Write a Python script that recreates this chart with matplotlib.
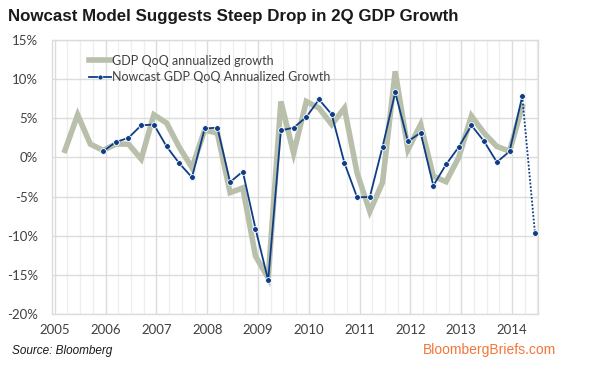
"""Nowcast model vs. reported GDP QoQ annualized growth, 2005-2014."""
import matplotlib

matplotlib.use("Agg")
import matplotlib.pyplot as plt
from matplotlib.lines import Line2D
from matplotlib.ticker import FixedLocator, FuncFormatter

# reported GDP, quarterly from 2005Q1 to 2014Q1 (percent)
gdp_start = (2005, 1)
gdp_growth = [
    0.9, 5.45, 1.7, 0.9, 1.7, 1.7, -0.2, 5.45, 4.4, 1.3,
    -1.3, 3.5, 3.1, -4.5, -3.9, -12.6, -15.4, 7.15, 0.55, 7.15,
    6.3, 4.2, 6.3, -2.0, -6.9, -3.2, 11.0, 1.0, 4.2, -2.4,
    -3.1, 0.0, 5.3, 3.1, 1.4, 0.8, 6.5,
]

# nowcast, quarterly from 2005Q4 to 2014Q1 (percent)
nowcast_start = (2005, 4)
nowcast_growth = [
    0.77, 1.97, 2.5, 4.1, 4.2, 1.4, -0.75, -2.55, 3.7, 3.8,
    -3.15, -1.8, -9.1, -15.7, 3.45, 3.8, 5.15, 7.4, 5.5, -0.7,
    -5.1, -5.05, 1.35, 8.3, 2.05, 3.15, -3.6, -0.9, 1.33, 4.1,
    2.05, -0.6, 0.77, 7.8,
]

# the 2Q 2014 nowcast, drawn dotted
forecast_quarter = (2014, 2)
forecast_growth = -9.65

year_ticks = list(range(2005, 2015))
pct_ticks = [-20, -15, -10, -5, 0, 5, 10, 15]

GREY = "#b8c0ab"
BLUE = "#0e3d88"
TEXT = "#404040"
TICK_FONT = "Lato"


def _quarter_pos(year, quarter):
    """Position of a quarter on the date axis (points sit near quarter end)."""
    return year + 0.2 + 0.25 * (quarter - 1)


def _series_pos(start, n):
    year, quarter = start
    out = []
    for _ in range(n):
        out.append(_quarter_pos(year, quarter))
        quarter += 1
        if quarter > 4:
            quarter = 1
            year += 1
    return out


def plot():
    fig = plt.figure(figsize=(5.99, 3.69), dpi=100)
    fig.set_facecolor("white")
    ax = fig.add_axes([52 / 599, 1 - 314 / 369, 486 / 599, 274 / 369])

    gdp_x = _series_pos(gdp_start, len(gdp_growth))
    now_x = _series_pos(nowcast_start, len(nowcast_growth))
    fc_x = _quarter_pos(*forecast_quarter)

    ax.plot(gdp_x, gdp_growth, color=GREY, lw=4.0, solid_joinstyle="miter",
            zorder=3)
    ax.plot([now_x[-1], fc_x], [nowcast_growth[-1], forecast_growth],
            color=BLUE, lw=1.3, ls=(0, (1, 1)), zorder=4)
    ax.plot(now_x + [fc_x], nowcast_growth + [forecast_growth], ls="none",
            marker="o", ms=4.2, mfc=BLUE, mec="white", mew=0.6, zorder=5)
    ax.plot(now_x, nowcast_growth, color=BLUE, lw=1.3, zorder=4)

    ax.set_xlim(2004.945, 2014.51)
    ax.set_ylim(-20, 15)

    ax.xaxis.set_major_locator(FixedLocator(year_ticks))
    ax.xaxis.set_minor_locator(FixedLocator(
        [y + q * 0.25 for y in range(2004, 2015) for q in (1, 2, 3)]))
    ax.yaxis.set_major_locator(FixedLocator(pct_ticks))
    ax.yaxis.set_major_formatter(FuncFormatter(lambda v, _: f"{v:.0f}%"))

    ax.grid(True, which="major", color="#dcdcdc", lw=1.0, zorder=0)
    ax.grid(True, which="minor", axis="x", color="#eeeeee", lw=0.9, zorder=0)
    ax.set_axisbelow(True)
    for side in ("top", "right", "left", "bottom"):
        ax.spines[side].set_color("#dcdcdc")
        ax.spines[side].set_linewidth(1.0)

    ax.tick_params(which="both", length=0)
    ax.tick_params(axis="y", pad=10, labelsize=9.5, labelcolor=TEXT)
    ax.tick_params(axis="x", pad=7, labelsize=9.5, labelcolor=TEXT)
    for lbl in ax.get_xticklabels() + ax.get_yticklabels():
        lbl.set_fontfamily(TICK_FONT)

    handles = [
        Line2D([], [], color=GREY, lw=4.0),
        Line2D([], [], color=BLUE, lw=1.3, marker="o", ms=3.5, mfc=BLUE,
               mec="white", mew=0.4),
    ]
    ax.legend(handles, ["GDP QoQ annualized growth",
                        "Nowcast GDP QoQ Annualized Growth"],
              loc="upper left", bbox_to_anchor=(0.065, 0.965), frameon=False,
              handlelength=1.8, handletextpad=0.05, labelspacing=0.35,
              borderaxespad=0,
              prop={"family": TICK_FONT, "size": 9}, labelcolor=TEXT)

    fig.text(8 / 599, 1 - 17 / 369,
             "Nowcast Model Suggests Steep Drop in 2Q GDP Growth",
             family="Liberation Sans", weight="bold", size=12.2,
             color="#1a1a1a", va="center", ha="left")
    fig.text(12 / 599, 1 - 351 / 369, "Source: Bloomberg",
             family="Liberation Sans", style="italic", size=8.5,
             color="#1a1a1a", va="center", ha="left")
    fig.text(556 / 599, 1 - 350 / 369, "BloombergBriefs.com",
             family="Liberation Sans", size=10, color="#f47638",
             va="center", ha="right")

    fig.savefig("out.png", dpi=100, facecolor="white")


plot()
